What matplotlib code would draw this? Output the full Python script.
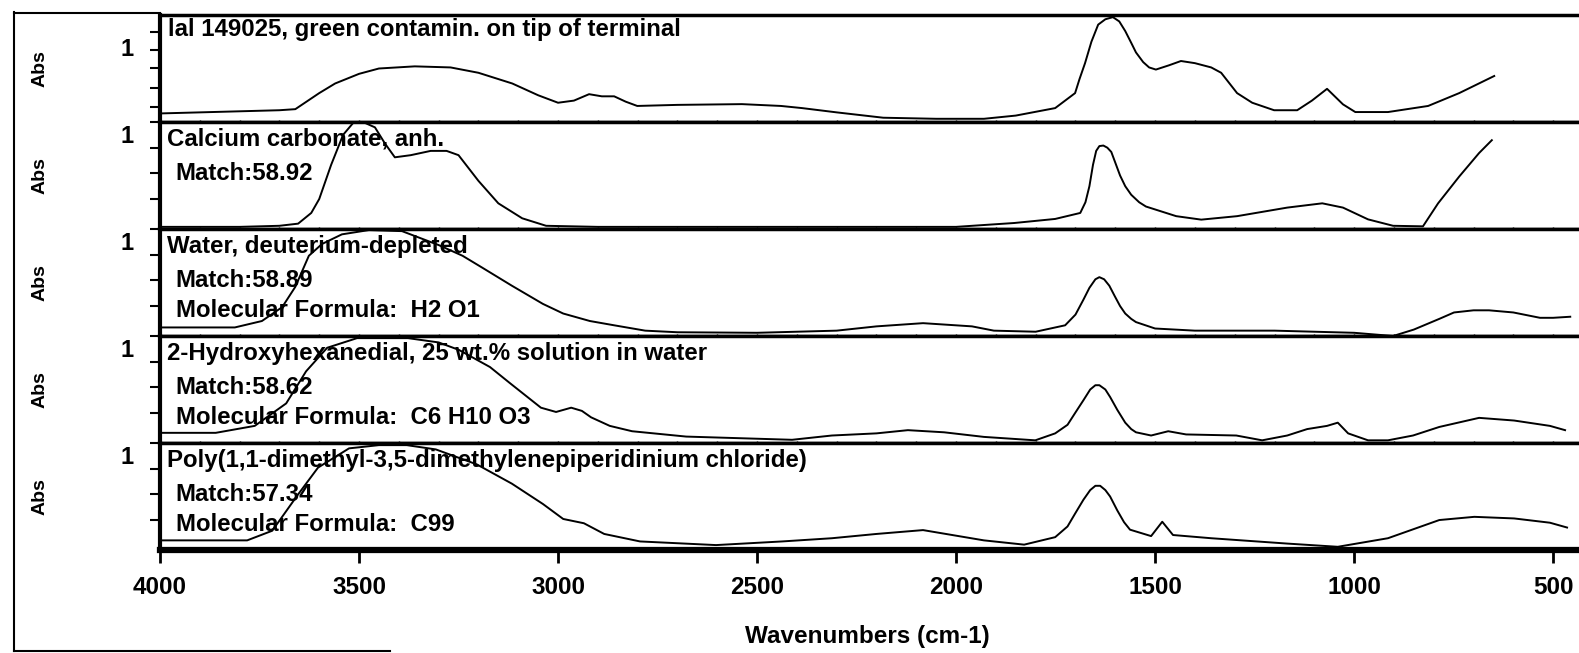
import numpy as np
import matplotlib
matplotlib.use('Agg')
import matplotlib.pyplot as plt
from matplotlib.lines import Line2D
from matplotlib.ticker import MultipleLocator

plt.rcParams['font.family'] = ['Liberation Sans', 'DejaVu Sans']
plt.rcParams['font.weight'] = 'bold'

# spectra, absorbance scaled to panel height
wn_sample = [4000, 3800, 3700, 3660, 3600, 3560, 3500, 3450, 3360, 3270, 3200, 3115, 3050, 3000,
             2960, 2922, 2890, 2859, 2830, 2801, 2700, 2538, 2440, 2387, 2300, 2183, 2050, 1930,
             1850, 1751, 1701, 1690, 1676, 1660, 1643, 1625, 1606, 1590, 1575, 1560, 1548, 1530,
             1515, 1498, 1465, 1435, 1400, 1359, 1334, 1294, 1256, 1201, 1143, 1106, 1068, 1028,
             997, 915, 814, 736, 648]
abs_sample = [0.08, 0.10, 0.11, 0.12, 0.27, 0.36, 0.45, 0.50, 0.52, 0.51, 0.46, 0.36, 0.25, 0.18,
              0.20, 0.26, 0.24, 0.24, 0.19, 0.15, 0.16, 0.167, 0.15, 0.13, 0.09, 0.04, 0.03, 0.03,
              0.06, 0.13, 0.27, 0.40, 0.55, 0.75, 0.91, 0.96, 0.98, 0.94, 0.85, 0.74, 0.65, 0.56,
              0.51, 0.49, 0.53, 0.57, 0.55, 0.51, 0.46, 0.27, 0.18, 0.11, 0.11, 0.20, 0.31, 0.165,
              0.093, 0.093, 0.15, 0.27, 0.43]

wn_caco3 = [4000, 3800, 3700, 3653, 3620, 3600, 3570, 3540, 3515, 3490, 3460, 3435, 3410, 3370,
            3320, 3280, 3250, 3200, 3150, 3090, 3030, 2900, 2500, 2000, 1854, 1751, 1688, 1675,
            1665, 1656, 1648, 1640, 1630, 1620, 1610, 1600, 1588, 1575, 1560, 1540, 1523, 1447,
            1384, 1294, 1168, 1080, 1028, 965, 902, 827, 789, 736, 686, 654]
abs_caco3 = [0.02, 0.02, 0.03, 0.05, 0.15, 0.28, 0.60, 0.88, 0.99, 1.0, 0.95, 0.80, 0.67, 0.69,
             0.73, 0.73, 0.69, 0.45, 0.24, 0.10, 0.03, 0.02, 0.02, 0.02, 0.056, 0.094, 0.15, 0.25,
             0.40, 0.60, 0.73, 0.775, 0.78, 0.76, 0.72, 0.62, 0.50, 0.40, 0.32, 0.25, 0.21, 0.12,
             0.0875, 0.12, 0.20, 0.24, 0.20, 0.09, 0.03, 0.025, 0.24, 0.49, 0.71, 0.83]

wn_water = [4000, 3900, 3812, 3744, 3693, 3660, 3626, 3593, 3543, 3475, 3392, 3300, 3240, 3191,
            3116, 3038, 2987, 2920, 2859, 2781, 2700, 2500, 2300, 2200, 2083, 1960, 1905, 1800,
            1726, 1700, 1680, 1665, 1650, 1640, 1628, 1615, 1601, 1588, 1575, 1560, 1548, 1500,
            1400, 1300, 1200, 1100, 1000, 902, 850, 786, 749, 700, 661, 600, 533, 500, 457]
abs_water = [0.08, 0.08, 0.08, 0.14, 0.27, 0.46, 0.75, 0.86, 0.95, 0.99, 0.98, 0.85, 0.75, 0.64,
             0.47, 0.30, 0.21, 0.14, 0.10, 0.05, 0.035, 0.03, 0.05, 0.09, 0.12, 0.09, 0.05, 0.04,
             0.10, 0.20, 0.34, 0.45, 0.53, 0.55, 0.53, 0.47, 0.37, 0.28, 0.21, 0.16, 0.13, 0.07,
             0.05, 0.05, 0.05, 0.04, 0.03, 0.0, 0.06, 0.16, 0.22, 0.24, 0.24, 0.22, 0.17, 0.17, 0.18]

wn_hexanedial = [4000, 3860, 3762, 3683, 3633, 3580, 3505, 3377, 3300, 3249, 3171, 3121, 3043, 3005,
                 2967, 2940, 2917, 2870, 2814, 2678, 2412, 2312, 2200, 2121, 2030, 1930, 1801, 1751,
                 1720, 1701, 1680, 1663, 1650, 1640, 1625, 1613, 1595, 1575, 1560, 1548, 1510, 1467,
                 1422, 1296, 1231, 1168, 1118, 1068, 1041, 1015, 965, 915, 852, 786, 686, 598, 508, 470]
abs_hexanedial = [0.095, 0.095, 0.16, 0.37, 0.67, 0.89, 0.98, 0.98, 0.94, 0.87, 0.71, 0.56, 0.33, 0.29,
                  0.33, 0.30, 0.24, 0.16, 0.11, 0.06, 0.03, 0.07, 0.09, 0.12, 0.10, 0.057, 0.025, 0.09,
                  0.17, 0.28, 0.40, 0.50, 0.54, 0.54, 0.50, 0.43, 0.31, 0.19, 0.13, 0.10, 0.07, 0.11,
                  0.08, 0.07, 0.025, 0.07, 0.13, 0.16, 0.19, 0.09, 0.025, 0.025, 0.07, 0.15, 0.235,
                  0.21, 0.16, 0.12]

wn_poly = [4000, 3781, 3718, 3653, 3603, 3525, 3450, 3380, 3307, 3204, 3116, 3038, 2987, 2935,
           2884, 2794, 2603, 2437, 2312, 2200, 2083, 1930, 1829, 1751, 1720, 1701, 1680, 1663,
           1650, 1638, 1625, 1613, 1595, 1578, 1563, 1510, 1482, 1455, 1359, 1168, 1041, 915,
           786, 698, 598, 508, 465]
abs_poly = [0.09, 0.09, 0.18, 0.52, 0.77, 0.95, 0.98, 0.98, 0.94, 0.80, 0.62, 0.43, 0.29, 0.25,
            0.15, 0.08, 0.046, 0.08, 0.11, 0.15, 0.186, 0.09, 0.05, 0.12, 0.22, 0.34, 0.47, 0.56,
            0.60, 0.60, 0.56, 0.50, 0.37, 0.26, 0.19, 0.13, 0.264, 0.14, 0.11, 0.06, 0.03, 0.11,
            0.28, 0.31, 0.295, 0.255, 0.21]

titles = ['lal 149025, green contamin. on tip of terminal',
          'Calcium carbonate, anh.',
          'Water, deuterium-depleted',
          '2-Hydroxyhexanedial, 25 wt.% solution in water',
          'Poly(1,1-dimethyl-3,5-dimethylenepiperidinium chloride)']
matches = [None, 'Match:58.92', 'Match:58.89', 'Match:58.62', 'Match:57.34']
formulas = [None, None, 'Molecular Formula:  H2 O1', 'Molecular Formula:  C6 H10 O3',
            'Molecular Formula:  C99']
xticks = [4000, 3500, 3000, 2500, 2000, 1500, 1000, 500]

spectra = [(wn_sample, abs_sample), (wn_caco3, abs_caco3), (wn_water, abs_water),
           (wn_hexanedial, abs_hexanedial), (wn_poly, abs_poly)]

W, H = 1579.0, 653.0
fig = plt.figure(figsize=(W / 100, H / 100), dpi=100)
left = 160 / W
top = 15
ph = 107

for i, (wn, ab) in enumerate(spectra):
    y0 = 1 - (top + (i + 1) * ph) / H
    ax = fig.add_axes([left, y0, 1 - left, ph / H])
    ax.plot(wn, ab, color='k', lw=1.4)
    ax.set_xlim(4000, 435)
    ax.set_ylim(0, 1)
    ax.spines['right'].set_visible(False)
    ax.spines['left'].set_linewidth(3)
    ax.spines['top'].set_linewidth(2.5)
    ax.spines['bottom'].set_linewidth(2.5)

    if i == 0:
        yt = [0.843, 0.673, 0.505, 0.318, 0.140]
        one = 0.673
    else:
        yt = [1.0, 0.757, 0.523, 0.280]
        one = 0.757
    ax.set_yticks(yt)
    ax.set_yticklabels(['1' if t == one else '' for t in yt], fontsize=17)
    ax.tick_params(axis='y', direction='out', length=7, width=1.5, pad=12)
    for lab in ax.get_yticklabels():
        lab.set_va('center' if i == 0 else 'bottom')

    ax.set_xticks(xticks)
    ax.xaxis.set_minor_locator(MultipleLocator(100))
    if i < 4:
        ax.tick_params(axis='x', which='both', labelbottom=False, direction='inout', length=3, width=1)
    else:
        ax.spines['bottom'].set_linewidth(4.5)
        ax.set_xticklabels([str(t) for t in xticks], fontsize=17.5)
        ax.tick_params(axis='x', which='major', direction='out', length=9, width=2, pad=10)
        ax.tick_params(axis='x', which='minor', direction='inout', length=5, width=1.5)

    ax.text(0.0056 if i == 0 else 0.005, 0.86 if i == 0 else 0.84, titles[i],
            transform=ax.transAxes, fontsize=17.3, va='center', ha='left')
    if matches[i]:
        ax.text(0.011, 0.52, matches[i], transform=ax.transAxes, fontsize=17.3, va='center')
    if formulas[i]:
        ax.text(0.011, 0.24, formulas[i], transform=ax.transAxes, fontsize=17.3, va='center')

    fig.text(40 / W, y0 + ph / H / 2, 'Abs', rotation=90, ha='center', va='center', fontsize=14)

fig.text(867 / W, 1 - 637 / H, 'Wavenumbers (cm-1)', ha='center', va='center', fontsize=17.5)

# scanned page frame
fig.add_artist(Line2D([14 / W, 14 / W], [1 - 12 / H, 1 - 651 / H], transform=fig.transFigure, color='k', lw=1.5))
fig.add_artist(Line2D([14 / W, left], [1 - 13 / H, 1 - 13 / H], transform=fig.transFigure, color='k', lw=1.5))
fig.add_artist(Line2D([14 / W, 390 / W], [1 - 651 / H, 1 - 651 / H], transform=fig.transFigure, color='k', lw=1.5))

fig.savefig('out.png', dpi=100)
